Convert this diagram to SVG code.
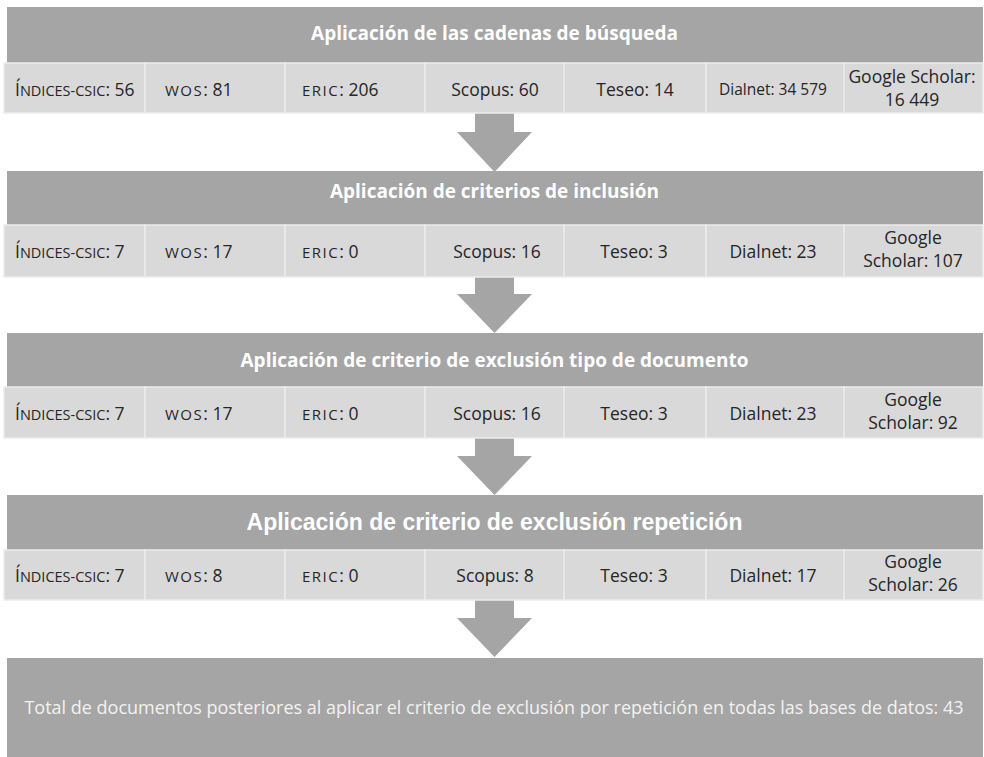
<svg xmlns="http://www.w3.org/2000/svg" width="984" height="757" viewBox="0 0 984 757">
<style>
.hdr{fill:#a5a5a5}
.cell{fill:#d9d9d9;stroke:#ececec;stroke-width:1.5}
.arrow{fill:#a5a5a5}
.ht{font-family:"Open Sans","Liberation Sans",sans-serif;font-weight:bold;font-size:19px;fill:#ffffff;text-anchor:middle}
.ht4{font-family:"Liberation Sans",Arial,sans-serif;font-weight:bold;font-size:23px;fill:#ffffff;text-anchor:middle}
.ct{font-family:"Open Sans","Liberation Sans",sans-serif;font-size:17.5px;fill:#262626;text-anchor:middle}
.cs{font-family:"Open Sans","Liberation Sans",sans-serif;font-size:17.5px;fill:#262626;text-anchor:start}
.sc{font-size:14.5px}
.sw{font-size:15px;letter-spacing:1.5px}
.se{font-size:15px;letter-spacing:1.5px}
.ft{font-family:"Open Sans","Liberation Sans",sans-serif;font-size:18px;fill:#f2f2f2;text-anchor:middle}
</style>
<rect width="984" height="757" fill="#ffffff"/>

<g id="connectors">
<polygon class="arrow" points="475,113 514,113 514,132 532,132 494.5,172 457,132 475,132"/>
<polygon class="arrow" points="475,277 514,277 514,294 532,294 494.5,333 457,294 475,294"/>
<polygon class="arrow" points="475,438 514,438 514,456 532,456 494.5,495 457,456 475,456"/>
<polygon class="arrow" points="475,600 514,600 514,618 532,618 494.5,657 457,618 475,618"/>
</g>

<g id="stage1">
<rect class="hdr" x="7" y="7" width="976" height="56"/>
<text class="ht" x="494.5" y="40">Aplicación de las cadenas de búsqueda</text>
<rect class="cell" x="4" y="63" width="141" height="50"/>
<rect class="cell" x="145" y="63" width="140" height="50"/>
<rect class="cell" x="285" y="63" width="140" height="50"/>
<rect class="cell" x="425" y="63" width="139" height="50"/>
<rect class="cell" x="564" y="63" width="142" height="50"/>
<rect class="cell" x="706" y="63" width="138" height="50"/>
<rect class="cell" x="844" y="63" width="139" height="50"/>
<text class="cs" x="15" y="96">Í<tspan class="sc">NDICES-CSIC</tspan>: 56</text>
<text class="cs" x="165" y="96"><tspan class="sw">WOS</tspan>: 81</text>
<text class="cs" x="302" y="96"><tspan class="se">ERIC</tspan>: 206</text>
<text class="ct" x="495" y="96">Scopus: 60</text>
<text class="ct" x="635" y="96">Teseo: 14</text>
<text class="ct" x="773" y="95" style="font-size:15.5px">Dialnet: 34 579</text>
<text class="ct" x="912" y="83">Google Scholar:</text>
<text class="ct" x="912" y="106">16 449</text>
</g>

<g id="stage2">
<rect class="hdr" x="7" y="171" width="976" height="54"/>
<text class="ht" x="494.5" y="198">Aplicación de criterios de inclusión</text>
<rect class="cell" x="4" y="225" width="141" height="52"/>
<rect class="cell" x="145" y="225" width="140" height="52"/>
<rect class="cell" x="285" y="225" width="140" height="52"/>
<rect class="cell" x="425" y="225" width="139" height="52"/>
<rect class="cell" x="564" y="225" width="142" height="52"/>
<rect class="cell" x="706" y="225" width="138" height="52"/>
<rect class="cell" x="844" y="225" width="139" height="52"/>
<text class="cs" x="15" y="258">Í<tspan class="sc">NDICES-CSIC</tspan>: 7</text>
<text class="cs" x="165" y="258"><tspan class="sw">WOS</tspan>: 17</text>
<text class="cs" x="302" y="258"><tspan class="se">ERIC</tspan>: 0</text>
<text class="ct" x="497" y="258">Scopus: 16</text>
<text class="ct" x="634" y="258">Teseo: 3</text>
<text class="ct" x="773" y="258">Dialnet: 23</text>
<text class="ct" x="913" y="244">Google</text>
<text class="ct" x="913" y="267">Scholar: 107</text>
</g>

<g id="stage3">
<rect class="hdr" x="7" y="333" width="976" height="54"/>
<text class="ht" x="494.5" y="367">Aplicación de criterio de exclusión tipo de documento</text>
<rect class="cell" x="4" y="387" width="141" height="51"/>
<rect class="cell" x="145" y="387" width="140" height="51"/>
<rect class="cell" x="285" y="387" width="140" height="51"/>
<rect class="cell" x="425" y="387" width="139" height="51"/>
<rect class="cell" x="564" y="387" width="142" height="51"/>
<rect class="cell" x="706" y="387" width="138" height="51"/>
<rect class="cell" x="844" y="387" width="139" height="51"/>
<text class="cs" x="15" y="420">Í<tspan class="sc">NDICES-CSIC</tspan>: 7</text>
<text class="cs" x="165" y="420"><tspan class="sw">WOS</tspan>: 17</text>
<text class="cs" x="302" y="420"><tspan class="se">ERIC</tspan>: 0</text>
<text class="ct" x="497" y="420">Scopus: 16</text>
<text class="ct" x="634" y="420">Teseo: 3</text>
<text class="ct" x="773" y="420">Dialnet: 23</text>
<text class="ct" x="913" y="406">Google</text>
<text class="ct" x="913" y="429">Scholar: 92</text>
</g>

<g id="stage4">
<rect class="hdr" x="7" y="495" width="976" height="55"/>
<text class="ht4" x="494.5" y="530">Aplicación de criterio de exclusión repetición</text>
<rect class="cell" x="4" y="550" width="141" height="50"/>
<rect class="cell" x="145" y="550" width="140" height="50"/>
<rect class="cell" x="285" y="550" width="140" height="50"/>
<rect class="cell" x="425" y="550" width="139" height="50"/>
<rect class="cell" x="564" y="550" width="142" height="50"/>
<rect class="cell" x="706" y="550" width="138" height="50"/>
<rect class="cell" x="844" y="550" width="139" height="50"/>
<text class="cs" x="15" y="582">Í<tspan class="sc">NDICES-CSIC</tspan>: 7</text>
<text class="cs" x="165" y="582"><tspan class="sw">WOS</tspan>: 8</text>
<text class="cs" x="302" y="582"><tspan class="se">ERIC</tspan>: 0</text>
<text class="ct" x="495" y="582">Scopus: 8</text>
<text class="ct" x="634" y="582">Teseo: 3</text>
<text class="ct" x="773" y="582">Dialnet: 17</text>
<text class="ct" x="913" y="568">Google</text>
<text class="ct" x="913" y="591">Scholar: 26</text>
</g>

<g id="total">
<rect class="hdr" x="7" y="658" width="976" height="99"/>
<text class="ft" x="494" y="714">Total de documentos posteriores al aplicar el criterio de exclusión por repetición en todas las bases de datos: 43</text>
</g>
</svg>
